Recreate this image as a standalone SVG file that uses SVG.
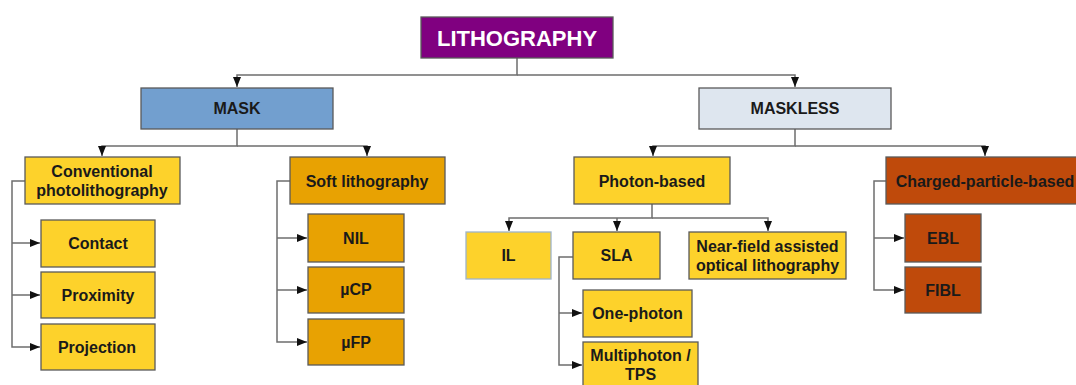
<svg xmlns="http://www.w3.org/2000/svg" width="1076" height="385" viewBox="0 0 1076 385">
<style>
.n rect{stroke:#5a5a5a;stroke-width:1.3}
.y{fill:#fdd22b}
.o{fill:#e8a202}
.r{fill:#bf4a0b}
text{font-family:"Liberation Sans",Arial,sans-serif;font-weight:bold;font-size:16px;fill:#1a1a1a;text-anchor:middle}
.c path{fill:none;stroke:#6e6e6e;stroke-width:1.5}
</style>
<defs>
<marker id="a" markerUnits="userSpaceOnUse" markerWidth="10" markerHeight="8" refX="10" refY="4" orient="auto">
<path d="M0,0 L10,4 L0,8 z" fill="#111"/>
</marker>
</defs>
<rect width="1076" height="385" fill="#fff"/>
<g class="c" id="connectors">
<path d="M517,58 V75 H237 V87" marker-end="url(#a)"/>
<path d="M517,75 H795 V87" marker-end="url(#a)"/>
<path d="M237,129 V146 H102 V156" marker-end="url(#a)"/>
<path d="M237,146 H367 V156" marker-end="url(#a)"/>
<path d="M795,129 V146 H653 V156" marker-end="url(#a)"/>
<path d="M795,146 H985 V156" marker-end="url(#a)"/>
<path d="M25,181 H12 V347 H40" marker-end="url(#a)"/>
<path d="M12,243 H40" marker-end="url(#a)"/>
<path d="M12,295 H40" marker-end="url(#a)"/>
<path d="M290,181 H277 V342 H307" marker-end="url(#a)"/>
<path d="M277,238 H307" marker-end="url(#a)"/>
<path d="M277,290 H307" marker-end="url(#a)"/>
<path d="M652,204 V218 H509 V231" marker-end="url(#a)"/>
<path d="M652,218 H768 V231" marker-end="url(#a)"/>
<path d="M617,218 V231" marker-end="url(#a)"/>
<path d="M573,257 H559 V365 H582" marker-end="url(#a)"/>
<path d="M559,313 H582" marker-end="url(#a)"/>
<path d="M886,181 H874 V290 H904" marker-end="url(#a)"/>
<path d="M874,238 H904" marker-end="url(#a)"/>
</g>
<g class="n" id="lithography"><rect x="421" y="17" width="192" height="41" fill="#800080"/><text x="517" y="45.5" style="font-size:22px;fill:#fff">LITHOGRAPHY</text></g>
<g class="n" id="mask"><rect x="141" y="88" width="192" height="41" fill="#729fcf"/><text x="237" y="114">MASK</text></g>
<g class="n" id="maskless"><rect x="699" y="88" width="192" height="41" fill="#dee6ef"/><text x="795" y="114">MASKLESS</text></g>
<g class="n" id="conventional"><rect class="y" x="25" y="157" width="155" height="47"/><text x="102" y="177">Conventional</text><text x="102" y="196">photolithography</text></g>
<g class="n" id="soft"><rect class="o" x="290" y="157" width="155" height="47"/><text x="367" y="186.5">Soft lithography</text></g>
<g class="n" id="photon"><rect class="y" x="574" y="157" width="156" height="47"/><text x="652" y="186.5">Photon-based</text></g>
<g class="n" id="charged"><rect class="r" x="886" y="157" width="200" height="47"/><text x="985" y="186.5">Charged-particle-based</text></g>
<g class="n" id="contact"><rect class="y" x="41" y="220" width="114" height="47"/><text x="98" y="249">Contact</text></g>
<g class="n" id="proximity"><rect class="y" x="41" y="272" width="114" height="46"/><text x="98" y="301">Proximity</text></g>
<g class="n" id="projection"><rect class="y" x="41" y="324" width="114" height="46"/><text x="97" y="352.5">Projection</text></g>
<g class="n" id="nil"><rect class="o" x="308" y="214" width="96" height="48"/><text x="356" y="243.5">NIL</text></g>
<g class="n" id="ucp"><rect class="o" x="308" y="267" width="96" height="46"/><text x="356" y="295">µCP</text></g>
<g class="n" id="ufp"><rect class="o" x="308" y="319" width="96" height="46"/><text x="356" y="348">µFP</text></g>
<g class="n" id="il"><rect class="y" x="466" y="232" width="85" height="47" style="stroke:#9fb4c9"/><text x="508.5" y="261">IL</text></g>
<g class="n" id="sla"><rect class="y" x="573" y="232" width="87" height="47"/><text x="616.5" y="261">SLA</text></g>
<g class="n" id="nearfield"><rect class="y" x="689" y="232" width="157" height="47"/><text x="767.5" y="252">Near-field assisted</text><text x="767.5" y="271">optical lithography</text></g>
<g class="n" id="onephoton"><rect class="y" x="583" y="290" width="109" height="47"/><text x="637.5" y="319">One-photon</text></g>
<g class="n" id="multiphoton"><rect class="y" x="583" y="342" width="115" height="50"/><text x="640.5" y="361">Multiphoton /</text><text x="640.5" y="380">TPS</text></g>
<g class="n" id="ebl"><rect class="r" x="905" y="214" width="76" height="48"/><text x="943" y="243.5">EBL</text></g>
<g class="n" id="fibl"><rect class="r" x="905" y="267" width="76" height="46"/><text x="943" y="295.5">FIBL</text></g>
</svg>
